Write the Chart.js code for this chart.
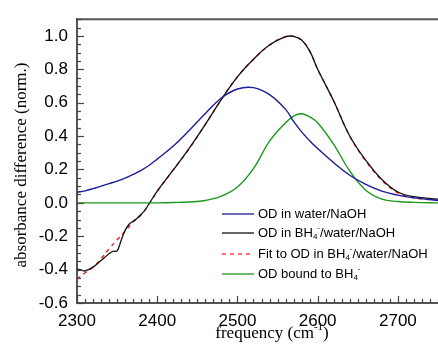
<!DOCTYPE html>
<html>
<head>
<meta charset="utf-8">
<script src="https://cdn.jsdelivr.net/npm/chart.js@4.4.0/dist/chart.umd.min.js"></script>
<style>
  html, body { margin: 0; padding: 0; background: #fff; }
  #wrap { width: 438px; height: 348px; }
</style>
</head>
<body>
<div id="wrap"><canvas id="myChart" width="438" height="348"></canvas></div>
<script>
// frequency grid for the model curves and the fit
let freqModel = [2300, 2310, 2320, 2330, 2340, 2350, 2360, 2370, 2380, 2390, 2400, 2420, 2440, 2460, 2480,
  2500, 2520, 2540, 2560, 2570, 2580, 2590, 2600, 2620, 2640, 2660, 2680, 2700, 2720, 2750];
let waterValues = [0.063, 0.072, 0.085, 0.10, 0.115, 0.13, 0.148, 0.17, 0.195, 0.225, 0.262, 0.34, 0.435, 0.535, 0.628,
  0.682, 0.69, 0.648, 0.56, 0.488, 0.425, 0.372, 0.325, 0.24, 0.165, 0.11, 0.07, 0.046, 0.03, 0.014];
let boundValues = [0, 0, 0, 0, 0, 0, 0, 0, 0, 0, 0, 0.002, 0.005, 0.014, 0.04,
  0.095, 0.205, 0.37, 0.48, 0.52, 0.534, 0.515, 0.48, 0.35, 0.19, 0.075, 0.022, 0.008, 0.003, 0];
let fitValues = [-0.456, -0.42, -0.385, -0.335, -0.275, -0.221, -0.17, -0.115, -0.072, -0.005, 0.068, 0.197, 0.325, 0.47, 0.62,
  0.755, 0.86, 0.945, 0.995, 0.997, 0.975, 0.91, 0.80, 0.61, 0.40, 0.25, 0.135, 0.06, 0.03, 0.015];

// measured spectrum
let freqData = [2300, 2305, 2310, 2320, 2330, 2340, 2345, 2350, 2355, 2360, 2365, 2370, 2375, 2380, 2385, 2390,
  2400, 2420, 2440, 2460, 2480, 2500, 2520, 2540, 2560, 2570, 2580, 2590, 2600, 2620, 2640, 2660, 2680, 2700, 2720, 2750];
let bh4Values = [-0.398, -0.402, -0.408, -0.385, -0.345, -0.305, -0.29, -0.288, -0.225, -0.165, -0.128, -0.11, -0.092, -0.068, -0.042, -0.004,
  0.07, 0.197, 0.328, 0.47, 0.62, 0.755, 0.86, 0.945, 0.995, 0.997, 0.975, 0.91, 0.80, 0.61, 0.40, 0.255, 0.14, 0.065, 0.037, 0.022];

let xTicks = [2300, 2400, 2500, 2600, 2700];
let yTicks = [-0.6, -0.4, -0.2, 0.0, 0.2, 0.4, 0.6, 0.8, 1.0];

function toPoints(xs, ys) {
  let points = [];
  for (let i = 0; i < xs.length; i++) {
    points.push({ x: xs[i], y: ys[i] });
  }
  return points;
}

// text with sub/superscript pieces: [text, "n" | "sub" | "sup"]
function drawRichText(ctx, parts, x, y, size, family) {
  let cx = x;
  for (let p of parts) {
    let small = p[1] != "n";
    ctx.font = (small ? Math.round(size * 0.62) : size) + "px " + family;
    let dy = 0;
    if (p[1] == "sub") dy = size * 0.3;
    if (p[1] == "sup") dy = -size * 0.38;
    ctx.fillText(p[0], cx, y + dy);
    cx += ctx.measureText(p[0]).width;
  }
  return cx - x;
}

function richWidth(ctx, parts, size, family) {
  let w = 0;
  for (let p of parts) {
    let small = p[1] != "n";
    ctx.font = (small ? Math.round(size * 0.62) : size) + "px " + family;
    w += ctx.measureText(p[0]).width;
  }
  return w;
}

let legendItems = [
  { color: "#1c1c9c", dash: [], y: 214, parts: [["OD in water/NaOH", "n"]] },
  { color: "#111111", dash: [], y: 233, parts: [["OD in BH", "n"], ["4", "sub"], ["-", "sup"], ["/water/NaOH", "n"]] },
  { color: "#ff2020", dash: [4, 4], y: 254, parts: [["Fit to OD in BH", "n"], ["4", "sub"], ["-", "sup"], ["/water/NaOH", "n"]] },
  { color: "#1a9a1a", dash: [], y: 274, parts: [["OD bound to BH", "n"], ["4", "sub"], ["-", "sup"]] },
];

const framePlugin = {
  id: "frame",
  afterDraw(chart) {
    const ctx = chart.ctx;
    const area = chart.chartArea;
    const xs = chart.scales.x;
    const ys = chart.scales.y;
    ctx.save();
    // top border
    ctx.strokeStyle = "#555";
    ctx.lineWidth = 2;
    ctx.beginPath();
    ctx.moveTo(area.left, area.top);
    ctx.lineTo(438, area.top);
    ctx.stroke();

    // inward ticks
    ctx.lineWidth = 1.2;
    ctx.strokeStyle = "#444";
    for (let f = 2300; f <= 2750; f += 10) {
      let px = Math.round(xs.getPixelForValue(f)) + 0.5;
      let len = f % 100 == 0 ? 7 : 4;
      ctx.beginPath();
      ctx.moveTo(px, area.bottom);
      ctx.lineTo(px, area.bottom - len);
      ctx.stroke();
    }
    for (let k = -12; k <= 22; k++) {
      let v = k * 0.05;
      let py = Math.round(ys.getPixelForValue(v)) + 0.5;
      let len = k % 4 == 0 ? 7 : 4;
      ctx.beginPath();
      ctx.moveTo(area.left, py);
      ctx.lineTo(area.left + len, py);
      ctx.stroke();
    }

    // legend
    ctx.textBaseline = "middle";
    ctx.fillStyle = "#000";
    for (let item of legendItems) {
      ctx.strokeStyle = item.color;
      ctx.lineWidth = 1.3;
      ctx.setLineDash(item.dash);
      ctx.beginPath();
      ctx.moveTo(222, item.y);
      ctx.lineTo(254, item.y);
      ctx.stroke();
      ctx.setLineDash([]);
      drawRichText(ctx, item.parts, 258, item.y, 13, "Arial, 'Liberation Sans'");
    }

    // x title
    let xParts = [["frequency (cm", "n"], ["-1", "sup"], [")", "n"]];
    let serif = "'Times New Roman', 'Liberation Serif', serif";
    let w = richWidth(ctx, xParts, 17, serif);
    drawRichText(ctx, xParts, 272 - w / 2, 334, 17, serif);

    // y title
    ctx.translate(22, 165);
    ctx.rotate(-Math.PI / 2);
    ctx.font = "17px " + serif;
    ctx.textAlign = "center";
    ctx.fillText("absorbance difference (norm.)", 0, 0);
    ctx.restore();
  },
};

const ctx = document.getElementById("myChart");

new Chart(ctx, {
  type: "line",
  data: {
    datasets: [
      {
        label: "OD in water/NaOH",
        data: toPoints(freqModel, waterValues),
        borderColor: "#1c1c9c",
        borderWidth: 1.4,
      },
      {
        label: "OD bound to BH4-",
        data: toPoints(freqModel, boundValues),
        borderColor: "#1a9a1a",
        borderWidth: 1.4,
      },
      {
        label: "OD in BH4-/water/NaOH",
        data: toPoints(freqData, bh4Values),
        borderColor: "#111111",
        borderWidth: 1.3,
      },
      {
        label: "Fit to OD in BH4-/water/NaOH",
        data: toPoints(freqModel, fitValues),
        borderColor: "#ff1a1a",
        borderWidth: 1.4,
        borderDash: [4, 4],
      },
    ],
  },
  options: {
    responsive: false,
    animation: false,
    elements: { point: { radius: 0 }, line: { tension: 0.4 } },
    layout: { padding: { top: 14, right: 0, left: 0, bottom: 0 } },
    plugins: {
      legend: { display: false },
      tooltip: { enabled: false },
    },
    scales: {
      x: {
        type: "linear",
        min: 2300,
        max: 2750,
        afterFit(scale) { scale.height = 45; },
        afterBuildTicks(scale) { scale.ticks = xTicks.map(v => ({ value: v })); },
        grid: { display: false, drawTicks: false },
        border: { display: true, color: "#555", width: 2 },
        ticks: {
          padding: 8,
          color: "#000",
          maxRotation: 0,
          font: { family: "Arial, 'Liberation Sans'", size: 17 },
          callback: (v) => String(v),
        },
      },
      y: {
        min: -0.6,
        max: 1.1,
        afterFit(scale) { scale.width = 77; },
        afterBuildTicks(scale) { scale.ticks = yTicks.map(v => ({ value: v })); },
        grid: { display: false, drawTicks: false },
        border: { display: true, color: "#555", width: 2 },
        ticks: {
          padding: 9,
          color: "#000",
          font: { family: "Arial, 'Liberation Sans'", size: 17 },
          callback: (v) => Math.abs(v) < 1e-9 ? "0.0" : v.toFixed(1),
        },
      },
    },
  },
  plugins: [framePlugin],
});
</script>
</body>
</html>
